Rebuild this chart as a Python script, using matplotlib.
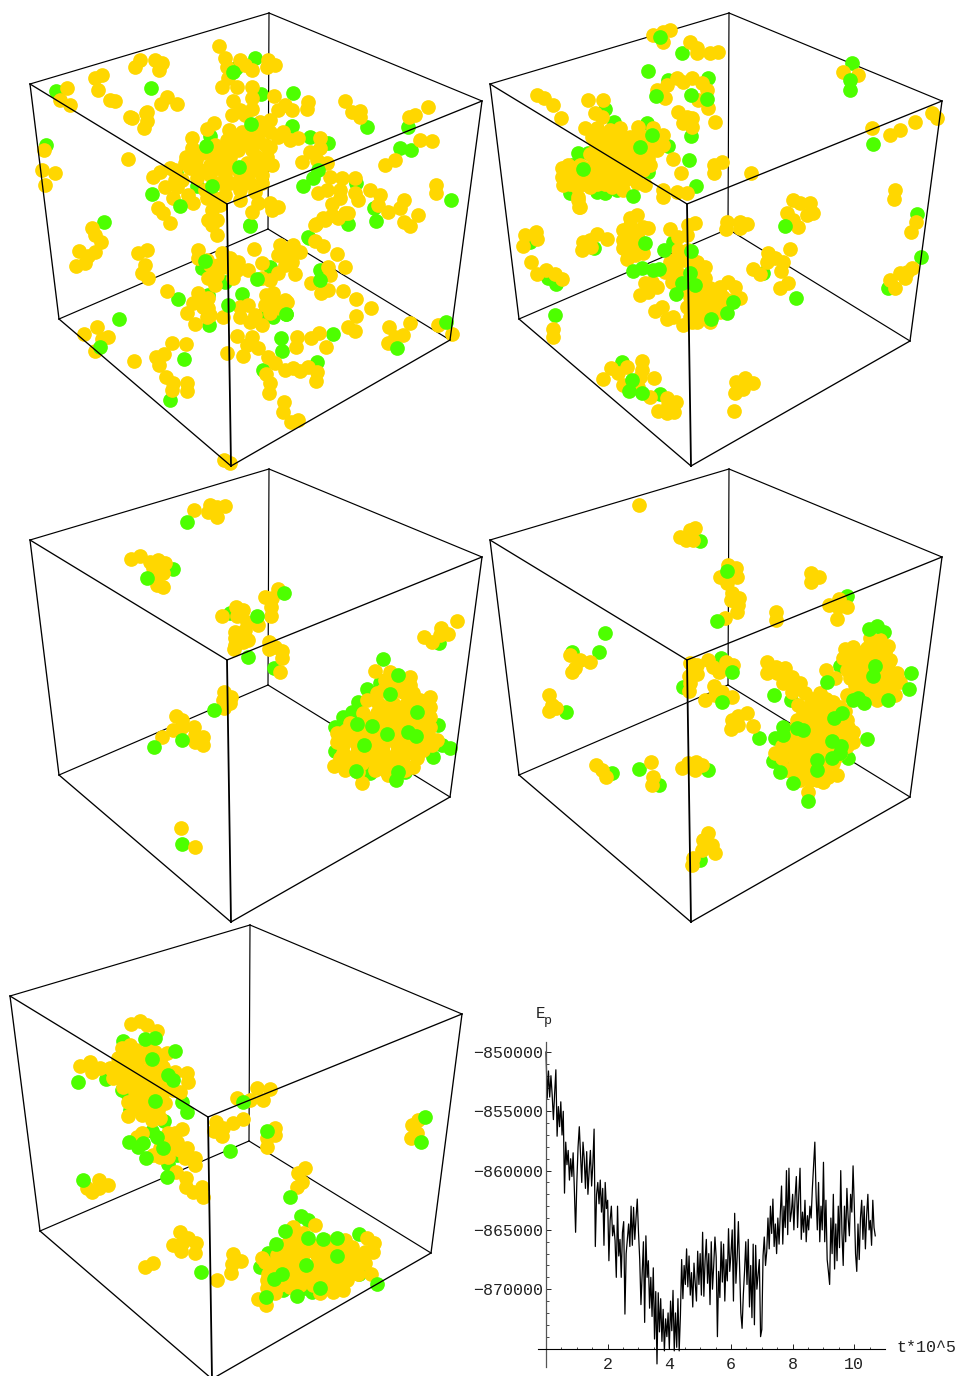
import numpy as np
import matplotlib
matplotlib.use('Agg')
import matplotlib.pyplot as plt

YELLOW = '#FFD700'
GREEN = '#4DFF00'

# cube corners, picture pixels: back top, left top, right top, front top,
# back bottom, left bottom, right bottom, front bottom
cube1 = [(269, 13), (30, 84), (482, 101), (227, 204), (268, 229), (59, 319), (450, 340), (231, 466)]
cube2 = [(729, 13), (490, 84), (942, 101), (687, 204), (728, 229), (519, 319), (910, 341), (691, 466)]
cube3 = [(269, 469), (30, 540), (482, 557), (227, 660), (268, 685), (59, 775), (450, 797), (231, 922)]
cube4 = [(729, 469), (490, 540), (942, 557), (687, 660), (728, 685), (519, 775), (910, 797), (691, 922)]
cube5 = [(250, 925), (10, 996), (462, 1014), (208, 1117), (249, 1141), (40, 1231), (431, 1253), (212, 1379)]
back_edges = [(0, 4), (4, 5), (4, 6), (0, 1), (0, 2)]
front_edges = [(1, 3), (3, 2), (3, 7), (5, 7), (6, 7), (1, 5), (2, 6)]

# --- panel 1 ---
p1_yellow = [(219,46),(225,58),(227,67),(240,60),(245,65),(252,70),(268,60),(275,65),(267,67),(228,78),(222,87),(237,87),
(252,87),(252,98),(274,96),(233,101),(232,115),(240,110),(252,109),(245,115),(285,105),(278,110),(292,110),(308,102),
(307,109),(345,101),(352,112),(360,111),(360,117),(140,60),(135,67),(155,60),(162,63),(159,70),(167,97),(161,104),
(177,104),(147,112),(147,121),(144,128),(132,118),(214,123),(207,129),(229,130),(270,120),(260,122),(253,128),(242,132),
(262,130),(270,132),(283,132),(278,137),(290,140),(298,138),(227,140),(225,147),(192,138),(192,148),(186,157),(185,163),
(202,153),(212,155),(230,157),(227,168),(245,143),(257,157),(267,157),(247,163),(260,167),(262,175),(250,183),(262,183),
(218,168),(210,175),(220,183),(230,183),(240,178),(153,177),(160,172),(170,168),(190,168),(197,178),(165,187),(177,187),
(173,198),(193,203),(188,195),(207,198),(212,210),(158,208),(163,213),(170,223),(208,220),(217,220),(217,235),(252,212),
(258,203),(270,203),(278,207),(272,210),(310,152),(320,138),(320,148),(302,162),(317,160),(327,163),(330,177),(327,190),
(318,193),(342,178),(340,190),(340,198),(332,204),(355,193),(323,218),(316,224),(338,218),(348,213),
(92,228),(95,235),(101,242),(79,251),(95,252),(88,256),(85,263),(76,266),(138,253),(147,250),(145,265),(142,273),(148,278),
(167,291),(198,250),(198,258),(207,260),(222,253),(230,258),(218,265),(227,267),(237,270),(208,278),(233,278),(217,275),
(248,270),(254,249),(262,263),(262,278),(278,273),(283,250),(280,245),(293,245),(292,262),(285,258),(295,274),
(315,241),(323,246),(337,254),(328,267),(345,267),(330,275),(311,283),(321,293),(328,290),(343,291),(356,299),(356,316),
(371,308),(348,327),(355,331),(389,327),(410,323),(403,335),(395,337),(388,343),(438,325),(452,334),
(198,293),(193,303),(208,298),(203,307),(187,313),(208,308),(195,324),(207,317),(223,317),(240,307),(248,305),(240,317),
(250,322),(262,325),(270,313),(273,293),(266,295),(287,302),(280,308),(275,303),(237,336),(252,337),(247,345),(258,348),
(227,353),(243,356),(268,357),(275,363),(285,370),(293,368),(300,371),(308,367),(317,372),(316,381),(297,337),(296,347),
(311,338),(319,333),(326,347),(84,334),(97,327),(108,337),(102,339),(95,351),(134,361),(172,343),(186,344),(164,354),
(156,357),(159,365),(166,377),(173,383),(172,390),(187,383),(187,391),(266,374),(270,383),(269,393),(284,402),(283,412),
(291,422),(298,420),(224,460),(230,463),
(67,88),(60,100),(70,105),(95,78),(102,75),(98,90),(110,100),(115,101),(44,150),(42,170),(55,173),(45,185),(128,159),
(130,117),(146,113),(415,115),(428,107),(409,117),(420,140),(432,141),(395,160),(385,165),(370,190),(380,195),(355,178),
(436,185),(436,193),(404,200),(400,208),(418,215),(410,226),(404,222),(388,212),(378,205),(358,200),(345,213),(332,215),
(325,220),(315,225)]
p1_yellow_fill = [(235,140),(250,140),(238,150),(252,150),(265,145),(238,170),(250,172),(272,165),(240,190),(225,175),(210,165),
(200,170),(215,145),(220,157),(175,180),(182,180),(205,190),(215,198),(225,195),(220,205),(212,225),(215,272),(225,260),(210,265),
(238,262),(215,285),(285,265),(278,255),(290,252),(300,252),(270,280),(285,300),(265,305),(255,315),(210,315),(200,298),(258,140),
(270,147),(255,192),(240,200),(196,160),(175,170)]
p1_green_back = [(56,91),(151,88),(255,58),(261,94),(293,93),(292,126),(310,137),(328,143),(303,186),(356,183),(210,136),
(176,173),(197,186),(152,194),(250,225),(309,238),(348,224),(408,127),(400,148),(411,150),(367,127),(374,208),(451,200),
(376,221),(46,145),(104,222),(119,319),(178,299),(209,325),(202,268),(225,282),(242,294),(208,295),(270,267),(262,315),
(273,317),(286,314),(308,237),(320,270),(281,338),(282,351),(333,334),(317,362),(263,370),(184,359),(170,400),(250,226),
(236,68)]
p1_green_front = [(233,72),(251,124),(206,146),(239,167),(212,186),(180,206),(318,170),(313,178),(205,261),(228,305),
(257,279),(320,280),(446,322),(100,347),(397,348),(286,314)]

# --- panel 2 ---
p2_yellow = [(653,35),(663,32),(670,30),(663,42),(690,42),(697,48),(697,53),(710,53),(718,52),(677,78),(667,85),(657,90),
(665,98),(683,82),(692,78),(702,83),(707,90),(698,100),(708,108),(678,112),(687,117),(692,118),(683,123),(692,127),(715,122),
(537,95),(544,98),(553,105),(561,118),(588,100),(603,100),(595,113),(602,117),(597,128),(610,130),(638,127),(653,128),
(663,135),(663,145),(657,150),(645,153),(592,137),(603,137),(617,137),(630,137),(643,137),(600,148),(613,148),(627,148),
(640,148),(653,143),(595,160),(607,160),(620,160),(633,160),(562,168),(573,168),(587,168),(600,170),(613,170),(627,170),
(643,170),(562,177),(572,178),(585,178),(598,180),(612,180),(625,180),(637,183),(645,185),(563,185),(577,187),(590,187),
(612,187),(623,190),(578,197),(580,207),(663,190),(663,197),(677,192),(687,193),(673,159),(681,173),(714,165),(722,162),
(714,173),(751,173),(579,207),(578,200),(525,235),(536,232),(537,239),(523,246),(531,262),(537,274),(546,270),(555,274),
(562,279),(583,242),(597,234),(590,240),(607,239),(582,250),(591,247),(630,218),(637,215),(623,230),(643,227),(648,228),
(623,240),(633,233),(638,238),(623,248),(635,247),(643,253),(627,259),(635,255),(670,229),(678,237),(688,225),(695,223),
(687,235),(727,222),(726,229),(740,222),(747,224),(740,228),(787,213),(793,220),(798,227),(807,215),(813,213),(800,203),
(810,203),(793,200),(790,249),(768,253),(767,262),(775,258),(783,262),(781,271),(753,269),(760,274),(788,283),(780,288),
(678,250),(673,260),(683,260),(665,272),(677,272),(697,262),(705,267),(697,272),(705,278),(672,282),(652,282),(645,283),
(657,287),(640,295),(648,292),(728,282),(735,287),(720,287),(710,288),(723,297),(740,298),(712,300),(700,295),(690,297),
(687,307),(700,307),(713,310),(727,305),(690,317),(703,315),(683,325),(692,322),(673,317),(667,319),(655,311),(662,307),
(553,329),(553,337),(603,379),(611,368),(618,373),(627,367),(642,361),(642,370),(640,377),(654,378),(623,385),(638,387),
(650,397),(667,398),(676,402),(658,411),(667,413),(674,412),(668,405),(736,382),(745,378),(753,383),(743,389),(735,393),
(734,411),(843,72),(858,75),(872,128),(890,135),(900,130),(915,122),(932,113),(937,118),(895,190),(894,199),(911,232),
(916,222),(890,280),(895,288),(900,273),(907,272),(912,268),(905,278)]
p2_yellow_fill = [(595,142),(608,142),(622,142),(635,142),(648,142),(590,154),(603,154),(615,154),(628,154),(642,154),(568,165),
(580,165),(595,165),(607,165),(620,165),(633,165),(650,165),(568,174),(580,174),(593,174),(605,174),(618,174),(632,174),(570,184),
(583,184),(597,184),(605,184),(618,184),(695,300),(705,300),(718,300),(732,300),(695,290),(705,290),(715,290),(695,312),(707,312),
(720,312),(697,322),(710,322),(672,275),(690,275),(700,275),(670,262),(690,262),(688,250),(630,225),(630,245),(628,253),(585,128),
(620,128),(648,158),(640,165),(688,285),(680,290)]
p2_green_back = [(668,80),(708,78),(605,109),(614,122),(647,123),(668,146),(578,153),(588,153),(572,165),(570,193),(597,192),
(605,193),(617,190),(648,172),(638,172),(763,273),(548,278),(556,284),(530,242),(673,242),(622,362),(660,394),(682,53),
(648,71),(691,136),(689,160),(696,186),(594,248),(796,298),(555,315),(852,63),(873,144),(917,214),(921,257),(888,288)]
p2_green_front = [(660,37),(656,96),(691,95),(707,99),(652,135),(640,147),(583,169),(633,196),(645,243),(664,250),(691,251),
(633,271),(642,268),(653,270),(659,269),(690,273),(682,283),(695,285),(676,294),(733,302),(727,313),(711,319),(785,226),
(632,380),(629,391),(642,393),(850,80),(850,90)]

# --- panel 3 ---
p3_yellow = [(194,510),(210,505),(208,512),(217,507),(225,506),(217,517),(131,559),(140,556),(150,562),(158,560),(165,563),
(153,568),(163,573),(157,585),(163,587),(157,575),(278,589),(265,597),(272,598),(271,607),(271,616),(236,607),(222,616),
(243,610),(237,616),(247,622),(258,625),(235,632),(245,630),(235,638),(248,640),(235,645),(234,649),(243,642),(269,642),
(269,649),(275,647),(282,651),(282,658),(280,672),(224,692),(231,697),(223,700),(230,703),(224,708),(176,716),(182,720),
(173,730),(182,727),(162,737),(194,727),(195,735),(203,737),(195,742),(203,745),(457,621),(441,628),(448,634),(440,635),
(424,637),(432,642),(375,671),(390,672),(410,677),(397,682),(410,685),(377,693),(390,690),(403,692),(413,693),(430,697),
(420,700),(367,700),(378,703),(393,703),(407,703),(430,707),(363,713),(377,713),(390,713),(403,713),(417,713),(430,717),
(350,723),(337,733),(363,725),(377,725),(390,725),(403,725),(417,725),(430,727),(337,742),(350,737),(363,738),(377,738),
(390,738),(403,738),(417,738),(430,738),(437,740),(343,753),(357,752),(370,752),(383,752),(397,752),(410,752),(423,750),
(334,766),(348,765),(362,763),(387,763),(400,763),(413,767),(375,762),(388,775),(362,783),(181,828),(195,847)]
p3_yellow_fill = [(385,707),(398,707),(412,707),(424,707),(370,719),(383,719),(397,719),(410,719),(423,719),(345,731),(357,731),
(370,731),(383,731),(397,731),(410,731),(423,731),(343,745),(357,745),(370,745),(383,745),(397,745),(410,745),(423,745),(432,745),
(340,758),(350,758),(363,758),(377,758),(390,758),(403,758),(417,758),(375,770),(385,770),(395,770),(405,770),(383,690),(397,690),
(410,690),(385,680),(402,680),(345,770),(358,772)]
p3_green_back = [(173,569),(230,613),(274,668),(439,643),(380,683),(335,727),(376,753),(335,751),(442,745),(450,748),(433,757),
(370,773),(405,772),(383,659),(367,689),(358,702),(352,712),(343,717),(438,725),(182,844)]
p3_green_front = [(187,522),(147,578),(284,593),(257,616),(248,657),(214,710),(182,740),(154,747),(398,675),(390,694),(357,724),
(417,712),(372,726),(387,734),(408,732),(416,736),(364,745),(356,771),(398,772),(396,780)]

# --- panel 4 ---
p4_yellow = [(728,565),(736,568),(720,577),(728,577),(737,577),(727,583),(732,593),(739,598),(731,600),(738,605),(737,612),
(725,618),(811,573),(819,577),(811,582),(776,612),(776,620),(839,599),(829,605),(838,607),(847,607),(837,619),(690,663),
(697,665),(708,660),(713,667),(719,672),(726,662),(733,665),(697,674),(689,676),(690,683),(689,691),(714,686),(722,692),
(732,697),(705,700),(715,695),(747,713),(738,716),(732,720),(738,725),(731,729),(753,726),(682,768),(688,763),(696,762),
(695,770),(702,765),(767,662),(767,673),(776,667),(785,668),(777,673),(785,677),(792,677),(783,683),(800,683),(792,685),
(792,692),(826,670),(835,678),(847,695),(870,638),(845,649),(853,647),(867,648),(878,645),(888,646),(843,658),(857,657),
(870,657),(883,657),(890,660),(847,670),(860,670),(883,668),(850,678),(863,680),(877,680),(890,678),(897,673),(900,682),
(860,687),(873,690),(887,690),(895,695),(877,700),(867,692),(805,693),(820,693),(833,702),(798,705),(810,705),(823,705),
(840,707),(797,720),(810,717),(823,717),(847,720),(808,730),(822,730),(835,728),(848,727),(853,732),(787,738),(800,742),
(813,742),(827,740),(840,738),(853,742),(775,753),(788,750),(802,752),(815,752),(828,752),(840,753),(787,770),(795,763),
(807,763),(820,762),(833,763),(795,775),(805,773),(817,780),(823,782),(837,775),(828,777),(808,792),
(639,505),(680,537),(690,530),(695,528),(686,540),(693,540),(570,655),(580,660),(575,668),(572,672),(590,662),(549,695),
(552,705),(549,711),(556,708),(596,765),(602,770),(606,777),(651,762),(653,777),(652,785),(708,833),(703,840),(712,845),
(702,850),(715,853),(693,858),(692,865)]
p4_yellow_fill = [(812,699),(826,699),(803,711),(816,711),(830,711),(845,711),(803,723),(815,723),(828,723),(842,723),(795,735),
(808,735),(820,735),(833,735),(847,735),(782,746),(795,746),(808,746),(820,746),(833,746),(847,746),(782,758),(795,758),(808,758),
(822,758),(835,758),(800,768),(812,768),(825,768),(800,780),(810,780),(850,652),(863,652),(875,652),(885,652),(850,664),(863,664),
(876,664),(888,664),(855,675),(868,675),(880,675),(893,675),(855,685),(868,685),(882,685),(893,685),(870,696),(885,696),(872,640),
(880,640),(790,730)]
p4_green_back = [(721,658),(683,687),(848,758),(773,761),(793,760),(819,700),(775,738),(884,632),(840,666),(700,541),(605,633),
(599,652),(572,652),(566,712),(612,773),(639,769),(659,785),(700,860),(774,695),(791,700),(759,738),(847,596),(708,770)]
p4_green_front = [(727,571),(717,621),(732,672),(722,702),(869,629),(877,626),(875,666),(873,676),(911,673),(909,689),(888,700),
(858,698),(853,700),(864,703),(827,682),(834,718),(842,713),(867,739),(783,727),(783,735),(797,728),(803,730),(832,741),
(841,746),(832,758),(840,753),(817,760),(817,770),(780,772),(793,783),(808,801)]

# --- panel 5 ---
p5_yellow = [(131,1024),(140,1021),(147,1025),(157,1031),(80,1066),(90,1062),(92,1072),(100,1068),(122,1048),(130,1045),
(118,1058),(130,1057),(142,1055),(155,1052),(167,1053),(110,1068),(123,1068),(137,1068),(150,1068),(163,1067),(175,1072),
(187,1073),(188,1082),(113,1078),(125,1080),(138,1080),(152,1080),(165,1083),(180,1092),(123,1087),(135,1092),(148,1092),
(162,1093),(173,1090),(128,1102),(140,1102),(153,1105),(165,1103),(142,1115),(152,1120),(160,1118),(128,1116),(147,1112),
(142,1133),(137,1137),(182,1129),(175,1133),(168,1133),(177,1142),(187,1148),(160,1148),(168,1145),(175,1148),(160,1157),
(168,1157),(153,1155),(185,1158),(195,1158),(195,1165),(176,1172),(186,1178),(186,1187),(193,1192),(202,1187),(203,1197),
(99,1180),(108,1185),(99,1188),(87,1188),(92,1192),(216,1122),(214,1131),(222,1136),(223,1128),(233,1123),(243,1119),
(237,1098),(257,1088),(250,1100),(263,1100),(270,1089),(275,1128),(275,1135),(267,1147),(267,1138),(412,1125),(418,1120),
(411,1138),(417,1133),(298,1173),(305,1168),(302,1182),(297,1187),
(180,1232),(188,1238),(173,1245),(183,1242),(196,1243),(181,1251),(195,1253),(145,1267),(153,1263),(217,1280),(233,1254),
(241,1261),(232,1264),(231,1273),(293,1227),(315,1225),(303,1233),(285,1245),(298,1243),(312,1245),(337,1247),(352,1247),
(367,1238),(374,1243),(373,1252),(262,1258),(277,1255),(290,1257),(303,1255),(317,1255),(330,1257),(343,1257),(357,1257),
(365,1263),(270,1268),(283,1268),(297,1268),(312,1268),(325,1268),(338,1268),(352,1268),(371,1274),(267,1280),(280,1280),
(293,1278),(307,1278),(320,1280),(333,1280),(347,1280),(267,1288),(275,1293),(290,1287),(320,1293),(333,1292),(343,1290),
(258,1299),(266,1305)]
p5_yellow_fill = [(128,1052),(136,1050),(148,1050),(125,1062),(137,1062),(150,1060),(160,1060),(116,1073),(130,1073),(143,1073),
(157,1073),(170,1078),(130,1085),(143,1086),(157,1086),(170,1085),(135,1097),(147,1097),(160,1098),(135,1108),(147,1108),(158,1110),
(120,1072),(172,1140),(180,1150),(285,1250),(298,1250),(310,1250),(325,1250),(338,1250),(350,1250),(365,1252),(265,1262),(278,1262),
(290,1262),(303,1262),(318,1262),(332,1262),(345,1262),(358,1262),(268,1274),(280,1274),(293,1274),(305,1274),(318,1274),(332,1274),
(345,1274),(358,1274),(270,1285),(280,1285),(300,1285),(313,1285),(327,1285),(340,1285),(290,1238),(300,1238),(345,1240),(325,1240)]
p5_green_back = [(106,1079),(123,1041),(122,1090),(130,1110),(164,1121),(182,1102),(152,1131),(168,1164),(177,1155),(128,1095),
(301,1216),(308,1220),(268,1253),(260,1267),(359,1274),(305,1288),(312,1292),(283,1290),(359,1234)]
p5_green_front = [(78,1082),(145,1039),(155,1038),(152,1059),(175,1051),(168,1075),(173,1080),(155,1101),(187,1112),(157,1137),
(129,1142),(138,1147),(143,1143),(163,1148),(146,1158),(167,1177),(83,1180),(243,1102),(230,1151),(267,1131),(425,1117),
(421,1142),(290,1197),(201,1272),(285,1231),(276,1244),(308,1238),(323,1239),(337,1238),(306,1265),(337,1256),(282,1274),
(274,1279),(377,1284),(320,1288),(297,1296),(266,1297)]

# energy trace: how far below -850000 it is, in thousands, one value per 0.04 of t
ep_drop = [
    0.0, 3.9, 1.6, 3.8, 2.0, 3.6, 5.7, 3.5, 1.5, 7.1, 4.6, 6.3, 4.2, 7.0, 5.0, 11.9, 7.6, 9.5, 8.3, 10.8, 9.0, 10.5, 8.5, 11.6, 15.2,
    11.0, 8.0, 6.3, 8.6, 11.0, 7.6, 9.0, 11.5, 8.4, 12.0, 10.0, 8.3, 11.3, 9.4, 6.5, 16.4, 12.0, 11.0, 12.8, 10.8, 13.5, 11.5, 16.3, 11.0, 13.2,
    12.5, 17.6, 14.2, 13.0, 15.5, 14.6, 15.9, 19.0, 13.0, 17.2, 15.8, 19.0, 15.2, 14.3, 22.1, 17.0, 15.7, 14.5, 16.4, 13.0, 16.3, 13.1, 15.8, 14.0, 12.4,
    15.2, 17.5, 21.3, 18.6, 16.0, 22.8, 15.5, 19.0, 17.6, 21.6, 19.0, 22.3, 18.2, 24.2, 20.2, 26.3, 20.3, 23.6, 20.8, 24.4, 21.7, 25.2, 22.5, 24.0, 22.0,
    25.0, 21.0, 23.5, 20.1, 25.2, 22.0, 24.9, 20.8, 25.2, 22.2, 17.5, 20.8, 18.0, 19.6, 16.6, 19.8, 17.2, 20.5, 18.6, 21.5, 17.8, 19.5, 21.0, 16.8, 19.6,
    17.0, 20.5, 15.2, 20.6, 17.6, 15.8, 19.5, 17.0, 21.3, 16.0, 20.0, 18.0, 15.6, 17.3, 24.0, 18.5, 20.7, 16.0, 19.4, 16.2, 21.0, 17.5, 19.3, 14.9, 18.5,
    17.0, 15.0, 21.0, 13.6, 19.5, 17.3, 14.3, 18.0, 22.0, 23.3, 20.5, 18.5, 16.0, 19.6, 15.8, 21.5, 18.0, 22.4, 16.2, 23.0, 16.3, 20.0, 18.8, 17.5, 24.0,
    23.4, 17.2, 15.6, 18.0, 16.8, 14.0, 16.6, 13.0, 15.3, 12.4, 16.4, 14.5, 17.0, 14.0, 16.2, 13.6, 11.3, 16.2, 13.0, 14.8, 10.0, 15.4, 9.8, 14.3, 13.5,
    12.0, 15.0, 12.2, 10.5, 14.8, 12.0, 9.8, 15.8, 13.5, 15.2, 12.5, 16.0, 13.8, 15.0, 13.0, 14.0, 11.5, 9.5, 7.6, 12.0, 15.0, 11.0, 16.0, 13.0, 15.0,
    9.3, 16.0, 12.5, 17.5, 18.5, 19.6, 14.0, 17.0, 12.0, 18.3, 14.5, 17.6, 13.0, 16.5, 10.0, 15.3, 18.0, 13.0, 16.0, 11.5, 14.0, 15.5, 12.0, 13.5, 9.6,
    13.0, 17.0, 18.5, 14.5, 17.5, 14.0, 12.5, 15.8, 13.0, 16.6, 13.8, 12.0, 15.0, 14.2, 16.3, 12.5, 14.8, 15.5,
]
t_major = [2, 4, 6, 8, 10]
ep_major = [-850000, -855000, -860000, -865000, -870000]

panels = [
    (cube1, p1_green_back, p1_yellow + p1_yellow_fill, p1_green_front),
    (cube2, p2_green_back, p2_yellow + p2_yellow_fill, p2_green_front),
    (cube3, p3_green_back, p3_yellow + p3_yellow_fill, p3_green_front),
    (cube4, p4_green_back, p4_yellow + p4_yellow_fill, p4_green_front),
    (cube5, p5_green_back, p5_yellow + p5_yellow_fill, p5_green_front),
]

W, H = 961, 1376
fig = plt.figure(figsize=(W/100, H/100), dpi=100)
ax = fig.add_axes([0, 0, 1, 1])
ax.set_xlim(0, W)
ax.set_ylim(H, 0)
ax.axis('off')

S = 112
for cube, g_back, yellow, g_front in panels:
    for a, b in back_edges:
        ax.plot([cube[a][0], cube[b][0]], [cube[a][1], cube[b][1]], color='k', lw=0.85, zorder=1)
    for pts, col, z in ((g_back, GREEN, 2), (yellow, YELLOW, 3), (g_front, GREEN, 4)):
        xy = np.array(pts)
        ax.scatter(xy[:, 0], xy[:, 1], s=S, c=col, linewidths=0, zorder=z)
    for a, b in front_edges:
        lw = 1.3 if (a, b) == (3, 7) else 0.95
        ax.plot([cube[a][0], cube[b][0]], [cube[a][1], cube[b][1]], color='k', lw=lw, zorder=5)

# energy panel, pixel box 538..885 x 1042..1367
ax2 = fig.add_axes([538/W, 1 - 1367/H, (885-538)/W, (1367-1042)/H])
ax2.patch.set_alpha(0)
t = np.arange(len(ep_drop)) * 0.04
ep = -850000 - 1000*np.array(ep_drop)
ax2.plot(t, ep, color='k', lw=0.9, clip_on=False)
ax2.set_xlim((538-546)/30.83, (885-546)/30.83)
ax2.set_ylim(-850000 - (1367-1052)/59.3*5000, -850000 - (1042-1052)/59.3*5000)
for s in ('top', 'right'):
    ax2.spines[s].set_visible(False)
ax2.spines['left'].set_position(('data', 0))
ax2.spines['bottom'].set_position(('data', -875000))
ax2.spines['left'].set_linewidth(0.9)
ax2.spines['bottom'].set_linewidth(0.8)
ax2.spines['left'].set_color('#555555')
ax2.set_xticks(t_major)
ax2.set_yticks(ep_major)
ax2.set_xticks(np.arange(0.5, 11, 0.5), minor=True)
ax2.set_yticks(np.arange(-874000, -849000, 1000), minor=True)
ax2.tick_params(which='major', direction='in', length=3.5, width=0.6, labelsize=12)
ax2.tick_params(which='minor', direction='in', length=1.8, width=0.5)
ax2.tick_params(axis='x', which='major', pad=6)
ax2.tick_params(axis='y', which='major', pad=2)
ax2.set_xticklabels([str(v) for v in t_major], family='Liberation Mono', color='#222222')
ax2.set_yticklabels(['\u2212' + str(-v) for v in ep_major], family='Liberation Mono', color='#222222')

ax.text(897, 1348, 't*10^5', family='Liberation Mono', fontsize=12, color='#222222', va='center', ha='left', zorder=6)
ax.text(536, 1014, 'E', family='Liberation Mono', fontsize=11.5, color='#222222', va='center', ha='left', zorder=6)
ax.text(544, 1021, 'p', family='Liberation Mono', fontsize=9.5, color='#222222', va='center', ha='left', zorder=6)

fig.savefig('out.png', dpi=100)
